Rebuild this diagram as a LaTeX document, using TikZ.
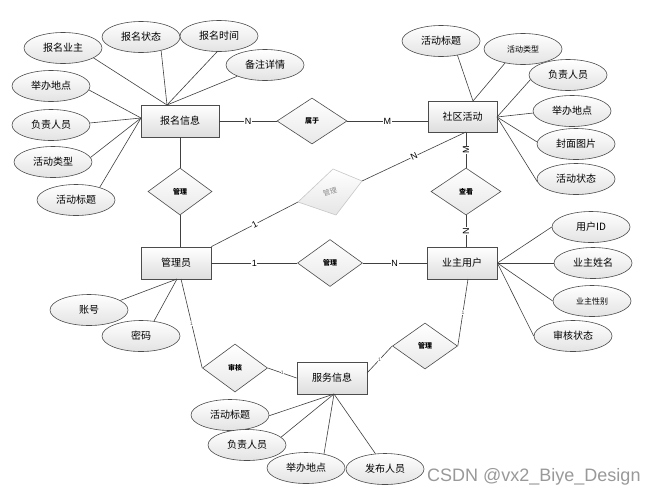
\documentclass[tikz,border=0pt]{standalone}
\usepackage{fontspec}
\setmainfont{Liberation Sans}
\newfontfamily\cjk{Noto Sans CJK SC}
\usetikzlibrary{shapes.geometric,calc}
\begin{document}
\begin{tikzpicture}[x=1pt,y=-1pt,
  ent/.style={draw=black!70, line width=0.8pt, top color=white, bottom color=black!13, minimum width=70pt, minimum height=32pt, inner sep=0pt, font=\cjk\fontsize{10}{12}\selectfont},
  attr/.style={ellipse, draw=black!70, line width=0.6pt, top color=white, bottom color=black!11, minimum width=78pt, minimum height=31pt, inner sep=0pt, font=\cjk\fontsize{10}{12}\selectfont},
  small/.style={font=\cjk\fontsize{8}{9}\selectfont},
  rel/.style={diamond, draw=black!70, line width=0.6pt, top color=white, bottom color=black!9, minimum width=65pt, minimum height=47pt, inner sep=0pt, font=\cjk\fontsize{7}{8}\selectfont\bfseries},
  conn/.style={draw=black!75, line width=0.6pt},
  lab/.style={font=\fontsize{9}{10}\selectfont, fill=white, inner sep=0.6pt},
  tick/.style={font=\fontsize{5}{6}\selectfont, fill=white, inner sep=0.3pt, text=black!70}
]
\useasboundingbox (0,0) rectangle (660,496);
\fill[white] (0,0) rectangle (660,496);

% ---------- connectors (drawn first) ----------
\coordinate (bmT) at (167,105);
\coordinate (bmL) at (141,118);
\coordinate (sqT) at (473,101);
\coordinate (sqR) at (497,117);
\coordinate (sqB) at (466,132);
\coordinate (yzB) at (468,279);
\coordinate (glyB) at (181,279);
\coordinate (glyS) at (177,279);
\coordinate (fwR) at (367,373);
\coordinate (fwS) at (334,394);
\coordinate (gL) at (298,202);
\coordinate (gT) at (333,169);
\coordinate (gR) at (362,181);
\coordinate (gB) at (336,215);

% entities
\node[ent, minimum width=78pt] (bm) at (180,121) {报名信息};
\node[ent, minimum width=69pt, minimum height=31pt] (sq) at (462.5,116.5) {社区活动};
\node[ent] (gly) at (176,263) {管理员};
\node[ent] (yz) at (462,263) {业主用户};
\node[ent] (fw) at (332,378) {服务信息};

% relationships
\node[rel, minimum width=70pt, minimum height=46pt] (sy) at (312,121) {属于};
\node[rel, minimum width=64pt] (gl1) at (180,191.5) {管理};
\node[rel, minimum width=70pt] (ck) at (466,191.5) {查看};
\node[rel] (gl2) at (330,263) {管理};
\node[rel, minimum height=48pt] (sh) at (235,368) {审核};
\node[rel, minimum height=46pt] (gl3) at (425,346) {管理};

% grey tilted relationship
\draw[draw=black!22, line width=0.6pt, top color=white, bottom color=black!10] (gL) -- (gT) -- (gR) -- (gB) -- cycle;
\node[rotate=18, text=black!45, font=\cjk\fontsize{7}{8}\selectfont] (gl4) at (330,192) {管理};

% attributes: 报名信息
\node[attr] (a1) at (63,48) {报名业主};
\node[attr] (a2) at (141,37) {报名状态};
\node[attr] (a3) at (219,36) {报名时间};
\node[attr] (a4) at (265,65) {备注详情};
\node[attr] (a5) at (51,86) {举办地点};
\node[attr] (a6) at (51,125) {负责人员};
\node[attr] (a7) at (53,162) {活动类型};
\node[attr] (a8) at (76,200) {活动标题};
% attributes: 社区活动
\node[attr] (b1) at (441,41) {活动标题};
\node[attr, small] (b2) at (523,49) {活动类型};
\node[attr] (b3) at (568,75) {负责人员};
\node[attr] (b4) at (572,111) {举办地点};
\node[attr] (b5) at (576,144) {封面图片};
\node[attr] (b6) at (576,179) {活动状态};
% attributes: 业主用户
\node[attr] (c1) at (591,227) {用户ID};
\node[attr] (c2) at (593,263) {业主姓名};
\node[attr, small] (c3) at (592,301) {业主性别};
\node[attr] (c4) at (573,336) {审核状态};
% attributes: 管理员
\node[attr] (d1) at (89,310) {账号};
\node[attr] (d2) at (141,336) {密码};
% attributes: 服务信息
\node[attr] (e1) at (230,415) {活动标题};
\node[attr] (e2) at (247,445) {负责人员};
\node[attr] (e3) at (306,468) {举办地点};
\node[attr] (e4) at (385,469) {发布人员};

% attribute connectors
\draw[conn] (a1.-18) -- (bmT);
\draw[conn] (a2.-34) -- (bmT);
\draw[conn] (a3.-97) -- (bmT);
\draw[conn] (a4.-158) -- (bmT);
\draw[conn] (a5.-6) -- (bmL);
\draw[conn] (a6.3) -- (bmL);
\draw[conn] (a7.7) -- (bmL);
\draw[conn] (a8.28) -- (bmL);

\draw[conn] (b1.-41) -- (sqT);
\draw[conn] (b2.-142) -- (sqT);
\draw[conn] (b3.-173) -- (sqR);
\draw[conn] (b4.-177) -- (sqR);
\draw[conn] (b5.177) -- (sqR);
\draw[conn] (b6.-176) -- (sqR);

\draw[conn] (c1.west) -- (yz.east);
\draw[conn] (c2.west) -- (yz.east);
\draw[conn] (c3.west) -- (yz.east);
\draw[conn] (c4.west) -- (yz.east);

\draw[conn] (d1.17) -- (glyS);
\draw[conn] (d2.49) -- (glyS);

\draw[conn] (e1.-1) -- (fwS);
\draw[conn] (e2.13) -- (fwS);
\draw[conn] (e3.38) -- (fwS);
\draw[conn] (e4.122) -- (fwS);

% relationship connectors
\draw[conn] (bm.east) -- node[lab] {N} (sy.west);
\draw[conn] (sy.east) -- node[lab] {M} (sy.east -| sq.west);
\draw[conn] (bm.south) -- (gl1.north);
\draw[conn] (gl1.south) -- (gl1.south |- gly.north);
\draw[conn] (gly.north east) -- node[lab, sloped] {1} (gL);
\draw[conn] (gR) -- node[lab, sloped] {N} (sqB);
\draw[conn] (sqB) -- node[lab, rotate=90] {M} (ck.north);
\draw[conn] (ck.south) -- node[lab, rotate=90] {N} (ck.south |- yz.north);
\draw[conn] (gly.east) -- node[lab] {1} (gl2.west);
\draw[conn] (gl2.east) -- node[lab] {N} (yz.west);
\draw[conn] (glyB) -- node[tick] {1} (sh.west);
\draw[conn] (sh.east) -- node[tick] {1} (fw.west);
\draw[conn] (fwR) -- node[tick] {1} (gl3.west);
\draw[conn] (gl3.east) -- node[tick] {1} (yzB);

% watermark
\node[anchor=west, text=black!40, font=\fontsize{18}{20}\selectfont, inner sep=0pt] (wm) at (427,477) {CSDN @vx2\_Biye\_Design};
\end{tikzpicture}
\end{document}
